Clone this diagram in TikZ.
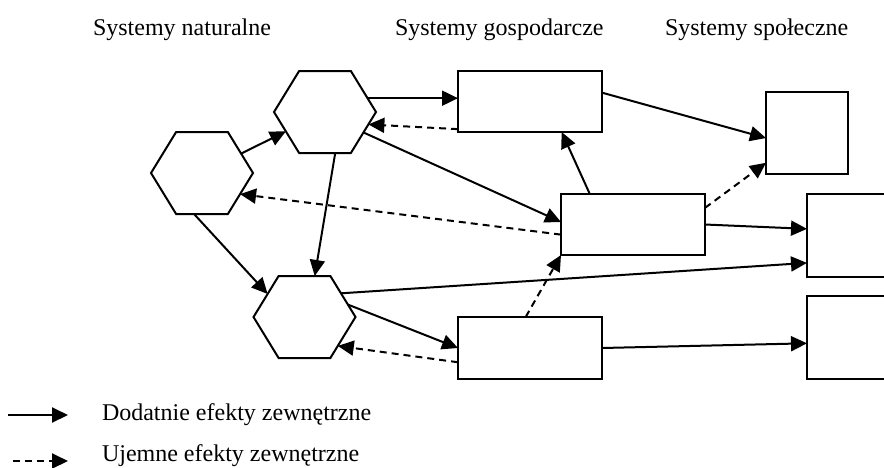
\documentclass[tikz,border=0pt]{standalone}
\usepackage{fontspec}
\setmainfont{Liberation Serif}
\usetikzlibrary{shapes.symbols,arrows.meta,calc}
\begin{document}
\begin{tikzpicture}[x=0.5pt,y=-0.5pt,
  every node/.style={inner sep=0pt, outer sep=0pt},
  hexa/.style={signal, signal to=east and west, signal pointer angle=117, draw, line width=1pt, minimum width=51pt, minimum height=41pt},
  box/.style={rectangle, draw, line width=1pt},
  posarrow/.style={line width=1pt, -{Triangle[length=8pt,width=7.5pt]}},
  negarrow/.style={posarrow, dash pattern=on 3.5pt off 2.5pt},
  ttl/.style={font=\fontsize{12}{14}\selectfont, anchor=base west}]
\clip (0,0) rectangle (884,467);
% titles
\node[ttl] (t1) at (93,35) {Systemy naturalne};
\node[ttl] (t2) at (395,35) {Systemy gospodarcze};
\node[ttl] (t3) at (665,35) {Systemy społeczne};
% hexagons
\node[hexa] (h1) at (202,173) {};
\node[hexa] (h2) at (325,112) {};
\node[hexa] (h3) at (304.5,317) {};
% boxes
\node[box, minimum width=72pt, minimum height=30.5pt] (b1) at (530,101.5) {};
\node[box, minimum width=72pt, minimum height=30.5pt] (b2) at (633,224.5) {};
\node[box, minimum width=72pt, minimum height=31pt] (b3) at (530,348) {};
\node[box, minimum width=41pt, minimum height=41pt] (s1) at (807,133) {};
\node[box, minimum width=41pt, minimum height=41.5pt] (s2) at (848,235.5) {};
\node[box, minimum width=41pt, minimum height=41.5pt] (s3) at (848,337.5) {};
% connectors
\draw[posarrow] (h1) -- (h2);
\draw[posarrow] (h1.-101) -- (h3.148);
\draw[posarrow] (h2.-76) -- (h3.76);
\draw[posarrow] (h2.18) -- (h2.18 -| b1.west);
\draw[negarrow] (b1.-159) -- (h2.-16);
\draw[posarrow] (h2.-28) -- (b2.178);
\draw[negarrow] (b2.-172) -- (h1.-29);
\draw[posarrow] ($(b2.north west)!0.2!(b2.north east)$) -- ($(b1.south west)!0.72!(b1.south east)$);
\draw[posarrow] (b1.7) -- (s1.-173);
\draw[negarrow] (b2.13) -- (s1.-144);
\draw[posarrow] (b2.east) -- ($(s2.north west)!0.42!(s2.south west)$);
\draw[posarrow] (h3.33) -- ($(s2.north west)!0.83!(s2.south west)$);
\draw[posarrow] (h3.16) -- (b3.west);
\draw[negarrow] ($(b3.north west)!0.73!(b3.south west)$) -- (h3.-41);
\draw[negarrow] ($(b3.north west)!0.47!(b3.north east)$) -- (b2.south west);
\draw[posarrow] (b3.east) -- ($(s3.north west)!0.57!(s3.south west)$);
% legend
\coordinate (l1a) at (8,415);
\coordinate (l1b) at (68,415);
\coordinate (l2a) at (13,461);
\coordinate (l2b) at (68,461);
\draw[posarrow] (l1a) -- (l1b);
\draw[negarrow] (l2a) -- (l2b);
\node[ttl] (t4) at (102,420) {Dodatnie efekty zewnętrzne};
\node[ttl] (t5) at (102,461) {Ujemne efekty zewnętrzne};
\end{tikzpicture}
\end{document}
